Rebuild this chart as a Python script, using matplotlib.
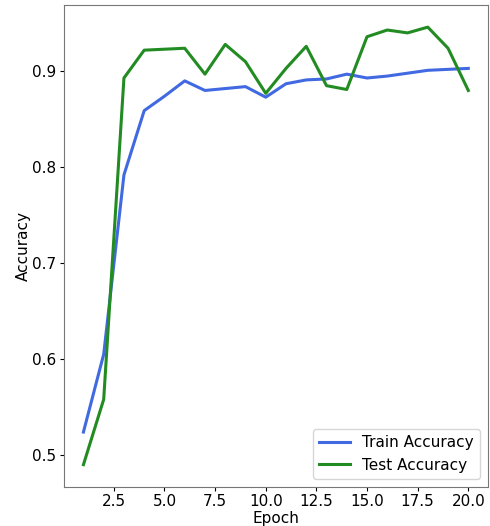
import numpy as np
import matplotlib
matplotlib.use("Agg")
import matplotlib.pyplot as plt

epochs = list(range(1, 21))
train_acc = [0.524, 0.605, 0.792, 0.859, 0.874, 0.890, 0.880, 0.882, 0.884, 0.873,
             0.887, 0.891, 0.892, 0.897, 0.893, 0.895, 0.898, 0.901, 0.902, 0.903]
test_acc = [0.490, 0.558, 0.893, 0.922, 0.923, 0.924, 0.897, 0.928, 0.910, 0.877,
            0.903, 0.926, 0.885, 0.881, 0.936, 0.943, 0.940, 0.946, 0.924, 0.880]

fig = plt.figure(figsize=(4.9, 5.26), dpi=100)
ax = fig.add_axes([0.131, 0.075, 0.864, 0.915])

ax.plot(epochs, train_acc, color="royalblue", linewidth=2.2, label="Train Accuracy")
ax.plot(epochs, test_acc, color="forestgreen", linewidth=2.2, label="Test Accuracy")

ax.set_xlabel("Epoch", fontsize=11, labelpad=1)
ax.set_ylabel("Accuracy", fontsize=11, labelpad=1)
ax.tick_params(labelsize=11, length=3, pad=2.5)
for s in ax.spines.values():
    s.set_color("#777777")
ax.legend(loc="lower right", fontsize=11)

fig.savefig("out.png")
